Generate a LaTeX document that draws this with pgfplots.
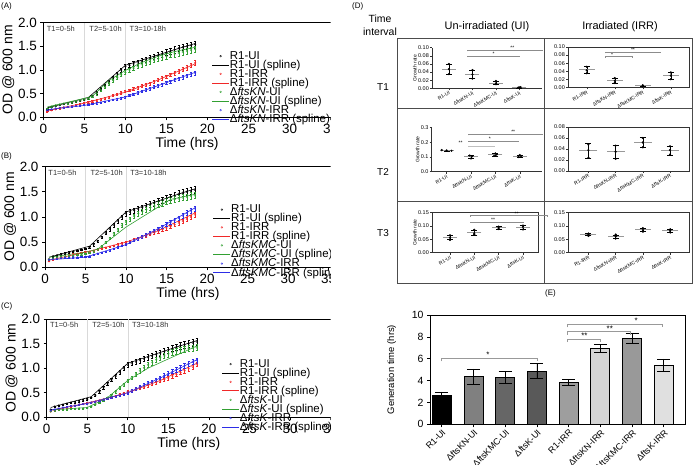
\documentclass[border=0pt]{standalone}
\usepackage{fontspec}
\setmainfont{Liberation Sans}
\usepackage{pgfplots}
\pgfplotsset{compat=1.18}
\usepackage{pgfplotstable}
\pgfkeys{/pgf/number format/assume math mode=true}
\definecolor{cred}{RGB}{240,40,40}
\definecolor{cgreen}{RGB}{50,160,50}
\definecolor{cblue}{RGB}{45,45,230}

\pgfplotstableread{
t r1ui r1irr mui mirr
0.5 0.16 0.12 0.18 0.15
1.0 0.22 0.15 0.22 0.17
1.5 0.24 0.17 0.25 0.19
2.0 0.26 0.19 0.27 0.20
2.5 0.28 0.21 0.29 0.21
3.0 0.30 0.22 0.30 0.22
3.5 0.31 0.24 0.32 0.23
4.0 0.33 0.26 0.34 0.24
4.5 0.35 0.28 0.36 0.25
5.0 0.37 0.30 0.38 0.26
5.5 0.40 0.32 0.41 0.27
6.0 0.45 0.34 0.44 0.28
6.5 0.52 0.36 0.50 0.30
7.0 0.60 0.38 0.57 0.31
7.5 0.68 0.40 0.64 0.33
8.0 0.76 0.43 0.71 0.35
8.5 0.84 0.46 0.78 0.37
9.0 0.92 0.49 0.84 0.39
9.5 1.00 0.52 0.90 0.41
10.0 1.07 0.55 0.95 0.43
10.5 1.10 0.57 1.00 0.46
11.0 1.13 0.60 1.04 0.49
11.5 1.16 0.63 1.08 0.52
12.0 1.19 0.66 1.12 0.55
12.5 1.22 0.69 1.15 0.58
13.0 1.25 0.72 1.18 0.61
13.5 1.28 0.76 1.21 0.64
14.0 1.31 0.79 1.24 0.67
14.5 1.34 0.83 1.27 0.70
15.0 1.37 0.86 1.29 0.73
15.5 1.40 0.90 1.32 0.76
16.0 1.43 0.93 1.34 0.79
16.5 1.46 0.97 1.36 0.82
17.0 1.48 1.01 1.38 0.85
17.5 1.50 1.05 1.40 0.88
18.0 1.52 1.10 1.42 0.91
18.5 1.54 1.15 1.44 0.94
}\dataA

\pgfplotstableread{
t r1ui r1irr mui mirr
0.5 0.16 0.12 0.15 0.15
1.0 0.22 0.15 0.18 0.16
1.5 0.24 0.18 0.20 0.17
2.0 0.26 0.20 0.21 0.18
2.5 0.28 0.22 0.22 0.19
3.0 0.30 0.24 0.23 0.19
3.5 0.31 0.26 0.24 0.20
4.0 0.33 0.27 0.25 0.20
4.5 0.35 0.29 0.26 0.21
5.0 0.37 0.30 0.27 0.21
5.5 0.40 0.31 0.29 0.22
6.0 0.45 0.33 0.32 0.25
6.5 0.52 0.35 0.36 0.27
7.0 0.60 0.37 0.42 0.29
7.5 0.68 0.39 0.50 0.31
8.0 0.76 0.41 0.58 0.34
8.5 0.84 0.43 0.67 0.37
9.0 0.92 0.45 0.75 0.40
9.5 1.00 0.47 0.83 0.43
10.0 1.07 0.49 0.90 0.46
10.5 1.10 0.52 0.96 0.50
11.0 1.13 0.55 1.02 0.54
11.5 1.16 0.57 1.07 0.57
12.0 1.19 0.60 1.11 0.61
12.5 1.22 0.63 1.15 0.65
13.0 1.25 0.66 1.19 0.69
13.5 1.28 0.69 1.22 0.73
14.0 1.31 0.72 1.25 0.77
14.5 1.34 0.75 1.28 0.81
15.0 1.37 0.78 1.31 0.85
15.5 1.40 0.81 1.33 0.90
16.0 1.43 0.85 1.35 0.94
16.5 1.46 0.88 1.37 0.98
17.0 1.48 0.92 1.39 1.03
17.5 1.50 0.96 1.40 1.08
18.0 1.52 1.00 1.42 1.13
18.5 1.54 1.05 1.43 1.17
}\dataB

\pgfplotstableread{
t r1ui r1irr mui mirr
0.5 0.16 0.12 0.12 0.14
1.0 0.22 0.14 0.14 0.16
1.5 0.24 0.16 0.15 0.18
2.0 0.26 0.18 0.16 0.20
2.5 0.28 0.20 0.16 0.21
3.0 0.30 0.22 0.17 0.23
3.5 0.31 0.24 0.17 0.24
4.0 0.33 0.26 0.18 0.26
4.5 0.35 0.27 0.18 0.27
5.0 0.37 0.29 0.19 0.28
5.5 0.40 0.30 0.22 0.30
6.0 0.45 0.32 0.26 0.32
6.5 0.52 0.34 0.30 0.34
7.0 0.60 0.36 0.35 0.36
7.5 0.68 0.38 0.40 0.38
8.0 0.76 0.40 0.45 0.40
8.5 0.84 0.43 0.52 0.42
9.0 0.92 0.46 0.60 0.44
9.5 1.00 0.49 0.67 0.47
10.0 1.07 0.52 0.74 0.50
10.5 1.10 0.54 0.81 0.54
11.0 1.13 0.57 0.88 0.58
11.5 1.16 0.60 0.95 0.62
12.0 1.19 0.62 1.01 0.66
12.5 1.22 0.65 1.07 0.70
13.0 1.25 0.68 1.12 0.73
13.5 1.28 0.71 1.17 0.77
14.0 1.31 0.74 1.21 0.81
14.5 1.34 0.77 1.25 0.85
15.0 1.37 0.80 1.29 0.89
15.5 1.40 0.84 1.32 0.93
16.0 1.43 0.87 1.35 0.97
16.5 1.46 0.91 1.37 1.01
17.0 1.48 0.95 1.39 1.05
17.5 1.50 0.99 1.40 1.09
18.0 1.52 1.03 1.41 1.13
18.5 1.54 1.08 1.42 1.16
}\dataC

\pgfplotsset{
  growth/.style={scale only axis, anchor=south west, xmin=0, ymin=0, ymax=2,
    xtick={0,5,10,15,20,25,30,35}, ytick={0,0.5,1,1.5,2},
    y tick label style={/pgf/number format/.cd, fixed, fixed zerofill, precision=1, /tikz/.cd},
    tick label style={font=\fontsize{13.5}{14}\selectfont},
    label style={font=\fontsize{14}{15}\selectfont},
    xlabel={Time (hrs)}, ylabel={OD @ 600 nm},
    xlabel style={yshift=3bp}, ylabel style={yshift=-3bp},
    axis line style={line width=0.8pt}, tick style={line width=0.8pt, black},
    tick align=outside, xtick pos=bottom, ytick pos=left, major tick length=3bp,
    legend cell align=left,
    legend style={draw=none, fill=none, font=\fontsize{11.5}{11.5}\selectfont,
      row sep=-1.7pt, inner sep=0pt, nodes={inner sep=0.5pt}},
  },
  mk/.style={only marks, mark=o, mark size=0.9pt, mark options={line width=0.35pt},
    error bars/y dir=both, error bars/y fixed relative=0.045,
    error bars/error bar style={line width=0.35pt},
    error bars/error mark options={rotate=90, mark size=1.1pt, line width=0.35pt}},
  sp/.style={no markers, line width=0.6pt},
  dax/.style={scale only axis, anchor=south west, clip=false, ymin=0, xtick={0,1,2,3},
    axis line style={line width=0.5pt, black!80}, tick style={black!80, line width=0.4pt},
    tick align=outside, major tick length=2bp, xtick pos=bottom, ytick pos=left,
    scaled y ticks=false,
    y tick label style={font=\fontsize{5.5}{6}\selectfont, inner sep=1pt,
      /pgf/number format/.cd, fixed, fixed zerofill, precision=2, /tikz/.cd},
    x tick label style={font=\fontsize{5}{5}\selectfont, rotate=30, anchor=north east, inner sep=0.5pt},
    ylabel style={font=\fontsize{5}{5}\selectfont, yshift=-3bp}},
  pt/.style={only marks, mark=*, mark size=0.9pt, black},
  mn/.style={only marks, mark=-, mark size=#1, mark options={black!40, line width=0.9pt},
    error bars/y dir=both, error bars/y explicit,
    error bars/error bar style={black, line width=0.4pt},
    error bars/error mark options={rotate=90, black, mark size=3bp, line width=0.4pt}},
}
\newcommand{\brk}[5]{%
  \draw[black!45, line width=0.4pt] ([yshift=-1.2bp]axis cs:#1,#3) -- (axis cs:#1,#3) -- (axis cs:#2,#3) -- ([yshift=-1.2bp]axis cs:#2,#3);
  \node[font=\fontsize{5}{5}\selectfont, inner sep=0pt, anchor=south] at ([yshift=0.2bp]axis cs:#5,#3) {#4};}
\newcommand{\ebrk}[5]{%
  \draw[black!40, line width=0.5pt] ([yshift=-3bp]axis cs:#1,#3) -- (axis cs:#1,#3) -- (axis cs:#2,#3) -- ([yshift=-3bp]axis cs:#2,#3);
  \node[font=\fontsize{8}{8}\selectfont, inner sep=0pt, anchor=south] at ([yshift=0.5bp]axis cs:#5,#3) {#4};}
\newcommand{\tlabels}{%
  \draw[black!15, line width=0.4pt] (axis cs:5,0) -- (axis cs:5,2);
  \draw[black!15, line width=0.4pt] (axis cs:10,0) -- (axis cs:10,2);
  \node[anchor=west, font=\fontsize{7.5}{8}\selectfont, text=black!80, inner sep=0pt] at (axis cs:0.4,1.88) {T1=0-5h};
  \node[anchor=west, font=\fontsize{7.5}{8}\selectfont, text=black!80, inner sep=0pt] at (axis cs:5.6,1.88) {T2=5-10h};
  \node[anchor=west, font=\fontsize{7.5}{8}\selectfont, text=black!80, inner sep=0pt] at (axis cs:10.5,1.88) {T3=10-18h};}

\begin{document}
\begin{tikzpicture}
\path[use as bounding box] (0bp,0bp) rectangle (694bp,465bp);

\begin{scope}
\clip (0bp,0bp) rectangle (330.5bp,465bp);
% ---------- A
\begin{axis}[growth, at={(43.3bp,347.7bp)}, width=287.7bp, height=94.6bp, xmax=35.05,
  legend style={at={(0.585,0.703)}, anchor=north west}]
\tlabels
\addplot[mk, black] table[x=t,y=r1ui] {\dataA};
\addplot[sp, black] coordinates {(0.5,0.2)(5.5,0.42)(10,1.1)(12,1.21)(14,1.32)(16,1.43)(18.5,1.56)};
\addplot[mk, cred] table[x=t,y=r1irr] {\dataA};
\addplot[sp, cred] coordinates {(0.5,0.14)(5,0.3)(10,0.53)(14,0.79)(18.5,1.13)};
\addplot[mk, cgreen] table[x=t,y=mui] {\dataA};
\addplot[sp, cgreen] coordinates {(0.5,0.22)(5.5,0.42)(6,0.45)(8,0.78)(10,0.99)(12,1.16)(14,1.29)(16,1.39)(18.5,1.48)};
\addplot[mk, cblue] table[x=t,y=mirr] {\dataA};
\addplot[sp, cblue] coordinates {(0.5,0.16)(5,0.25)(10,0.43)(14,0.67)(18.5,0.95)};
\legend{R1-UI, R1-UI (spline), R1-IRR, R1-IRR (spline), Δ\textit{ftsKN}-UI, Δ\textit{ftsKN}-UI (spline), Δ\textit{ftsKN}-IRR, Δ\textit{ftsKN}-IRR (spline)}
\end{axis}
% ---------- B
\begin{axis}[growth, at={(45bp,197.7bp)}, width=286bp, height=100.6bp, xmax=35.3,
  legend style={at={(0.587,0.627)}, anchor=north west}]
\tlabels
\addplot[mk, black] table[x=t,y=r1ui] {\dataB};
\addplot[sp, black] coordinates {(0.5,0.2)(5.5,0.42)(10,1.1)(12,1.21)(14,1.32)(16,1.43)(18.5,1.56)};
\addplot[mk, cred] table[x=t,y=r1irr] {\dataB};
\addplot[sp, cred] coordinates {(0.5,0.14)(5,0.3)(10,0.5)(14,0.73)(18.5,1.08)};
\addplot[mk, cgreen] table[x=t,y=mui] {\dataB};
\addplot[sp, cgreen] coordinates {(0.5,0.2)(5,0.3)(6.5,0.36)(10,0.8)(12.5,1.05)(15.5,1.35)(18.5,1.45)};
\addplot[mk, cblue] table[x=t,y=mirr] {\dataB};
\addplot[sp, cblue] coordinates {(0.5,0.15)(5,0.2)(10,0.45)(14,0.77)(18.5,1.18)};
\legend{R1-UI, R1-UI (spline), R1-IRR, R1-IRR (spline), Δ\textit{ftsKMC}-UI, Δ\textit{ftsKMC}-UI (spline), Δ\textit{ftsKMC}-IRR, Δ\textit{ftsKMC}-IRR (spline)}
\end{axis}
% ---------- C
\begin{axis}[growth, at={(46.7bp,47.7bp)}, width=284.3bp, height=98.3bp, xmax=35.05,
  legend style={at={(0.615,0.596)}, anchor=north west}]
\tlabels
\addplot[mk, black] table[x=t,y=r1ui] {\dataC};
\addplot[sp, black] coordinates {(0.5,0.2)(5.5,0.42)(10,1.1)(12,1.21)(14,1.32)(16,1.43)(18.5,1.56)};
\addplot[mk, cred] table[x=t,y=r1irr] {\dataC};
\addplot[sp, cred] coordinates {(0.5,0.14)(5,0.29)(10,0.5)(14,0.75)(18.5,1.1)};
\addplot[mk, cgreen] table[x=t,y=mui] {\dataC};
\addplot[sp, cgreen] coordinates {(0.5,0.15)(5,0.2)(7.5,0.4)(10,0.75)(12.5,1.0)(18.5,1.45)};
\addplot[mk, cblue] table[x=t,y=mirr] {\dataC};
\addplot[sp, cblue] coordinates {(0.5,0.15)(5,0.28)(10,0.5)(14,0.8)(18.5,1.17)};
\legend{R1-UI, R1-UI (spline), R1-IRR, R1-IRR (spline), Δ\textit{ftsK}-UI, Δ\textit{ftsK}-UI (spline), Δ\textit{ftsK}-IRR, Δ\textit{ftsK}-IRR (spline)}
\end{axis}
\end{scope}

\node[anchor=west, font=\fontsize{8}{9}\selectfont, inner sep=0pt] at (1bp,458.3bp) {(A)};
\node[anchor=west, font=\fontsize{8}{9}\selectfont, inner sep=0pt] at (1bp,308.3bp) {(B)};
\node[anchor=west, font=\fontsize{8}{9}\selectfont, inner sep=0pt] at (1bp,159bp) {(C)};

% ---------- D frame and headers
\node[anchor=west, font=\fontsize{8}{9}\selectfont, inner sep=0pt] at (352bp,458.3bp) {(D)};
\node[font=\fontsize{10.5}{11}\selectfont, inner sep=0pt] at (380bp,446bp) {Time};
\node[font=\fontsize{10.5}{11}\selectfont, inner sep=0pt] at (380bp,433bp) {interval};
\node[font=\fontsize{11}{12}\selectfont, inner sep=0pt] at (487bp,438bp) {Un-irradiated (UI)};
\node[font=\fontsize{11}{12}\selectfont, inner sep=0pt] at (620bp,438bp) {Irradiated (IRR)};
\node[font=\fontsize{10}{11}\selectfont, inner sep=0pt] at (383bp,378bp) {T1};
\node[font=\fontsize{10}{11}\selectfont, inner sep=0pt] at (383bp,293bp) {T2};
\node[font=\fontsize{10}{11}\selectfont, inner sep=0pt] at (383bp,232bp) {T3};
\draw[black!70, line width=0.6pt] (397bp,182bp) rectangle (692bp,427bp);
\draw[black!70, line width=0.6pt] (544bp,182bp) -- (544bp,427bp);
\draw[black!70, line width=0.6pt] (397bp,357bp) -- (692bp,357bp);
\draw[black!70, line width=0.6pt] (397bp,264bp) -- (692bp,264bp);

% T1 UI
\begin{axis}[dax, at={(432bp,376.7bp)}, width=110bp, height=40.6bp, xmin=-0.72, xmax=3.96,
  ymax=0.10, ytick={0,0.02,0.04,0.06,0.08,0.10}, axis lines*=left, ylabel={Growth rate},
  xticklabels={R1-UI,ΔftsKN-UI,ΔftsKMC-UI,ΔftsK-UI}]
\addplot[mn=7bp] coordinates {(0,0.047) +- (0,0.012) (1,0.034) +- (0,0.010) (2,0.013) +- (0,0.004) (3,0.002) +- (0,0.001)};
\addplot[pt] coordinates {(0,0.060)(0,0.047)(0,0.035)(1,0.045)(1,0.034)(1,0.024)(2,0.018)(2,0.012)(2,0.010)(3.05,0.003)(3,0.002)(2.95,0.002)};
\brk{0.77}{3.0}{0.0795}{*}{1.9}
\brk{0.77}{3.96}{0.094}{**}{2.7}
\end{axis}
% T1 IRR
\begin{axis}[dax, at={(568bp,377.7bp)}, width=121bp, height=40.3bp, xmin=-0.67, xmax=3.65,
  ymax=0.10, ytick={0,0.02,0.04,0.06,0.08,0.10},
  xticklabels={R1-IRR,ΔftsKN-IRR,ΔftsKMC-IRR,ΔftsK-IRR}]
\addplot[mn=8bp] coordinates {(0,0.044) +- (0,0.008) (1,0.017) +- (0,0.006) (2,0.004) +- (0,0.0015) (3,0.029) +- (0,0.008)};
\addplot[pt] coordinates {(0,0.051)(0,0.042)(0,0.035)(1,0.023)(1,0.016)(1,0.011)(2,0.005)(2,0.004)(2,0.002)(3,0.037)(3,0.029)(3,0.020)};
\brk{0.65}{1.63}{0.076}{*}{0.9}
\brk{0.65}{2.62}{0.087}{**}{1.65}
\end{axis}
% T2 UI
\begin{axis}[dax, at={(431.7bp,293.3bp)}, width=110.3bp, height=44bp, xmin=-0.61, xmax=3.91,
  ymax=0.3, ytick={0,0.1,0.2,0.3}, axis lines*=left, ylabel={Growth rate},
  y tick label style={/pgf/number format/precision=1},
  xticklabels={R1-UI,ΔftsKN-UI,ΔftsKMC-UI,ΔftsK-UI}]
\addplot[mn=7bp] coordinates {(0,0.145) +- (0,0.003) (1,0.102) +- (0,0.010) (2,0.117) +- (0,0.008) (3,0.107) +- (0,0.006)};
\addplot[pt] coordinates {(-0.2,0.147)(0,0.145)(0.2,0.143)(0.95,0.110)(1.05,0.105)(1,0.090)(2,0.125)(2.05,0.117)(1.95,0.108)(3,0.113)(3.05,0.107)(2.95,0.100)};
\brk{0.9}{3.91}{0.255}{**}{2.73}
\brk{0.9}{2.94}{0.211}{*}{1.77}
\draw[black!25, line width=1pt] ([yshift=-1.2bp]axis cs:0.9,0.175) -- (axis cs:0.9,0.175) -- (axis cs:1.98,0.175) -- ([yshift=-1.2bp]axis cs:1.98,0.175);
\node[font=\fontsize{5}{5}\selectfont, inner sep=0pt] at (axis cs:0.57,0.2) {**};
\end{axis}
% T2 IRR
\begin{axis}[dax, at={(568bp,294bp)}, width=121bp, height=44bp, xmin=-0.75, xmax=3.70,
  ymax=0.08, ytick={0,0.02,0.04,0.06,0.08},
  xticklabels={R1-IRR,ΔftsKN-IRR,ΔftsKMC-IRR,ΔftsK-IRR}]
\addplot[mn=9bp] coordinates {(0,0.037) +- (0,0.013) (1,0.035) +- (0,0.012) (2,0.052) +- (0,0.009) (3,0.037) +- (0,0.008)};
\addplot[pt] coordinates {(0,0.048)(0,0.038)(0,0.024)(1,0.046)(1,0.035)(1,0.022)(2,0.060)(2,0.052)(2,0.043)(3,0.045)(3,0.038)(3,0.030)};
\end{axis}
% T3 UI
\begin{axis}[dax, at={(432bp,212.3bp)}, width=106bp, height=40bp, xmin=-0.74, xmax=3.62,
  ymax=0.15, ytick={0,0.05,0.10,0.15}, ylabel={Growth rate},
  xticklabels={R1-UI,ΔftsKN-UI,ΔftsKMC-UI,ΔftsK-UI}]
\addplot[mn=7bp] coordinates {(0,0.057) +- (0,0.008) (1,0.075) +- (0,0.010) (2,0.093) +- (0,0.005) (3,0.096) +- (0,0.008)};
\addplot[pt] coordinates {(0,0.065)(0,0.056)(0,0.048)(1,0.086)(1,0.073)(1,0.068)(2,0.098)(2,0.093)(2,0.089)(3,0.102)(3,0.097)(3,0.087)};
\brk{0.85}{3.0}{0.116}{**}{1.77}
\brk{0.85}{3.98}{0.139}{**}{2.74}
\end{axis}
% T3 IRR
\begin{axis}[dax, at={(568bp,212.3bp)}, width=121bp, height=40bp, xmin=-0.75, xmax=3.69,
  ymax=0.15, ytick={0,0.05,0.10,0.15},
  xticklabels={R1-IRR,ΔftsKN-IRR,ΔftsKMC-IRR,ΔftsK-IRR}]
\addplot[mn=8bp] coordinates {(0,0.068) +- (0,0.004) (1,0.060) +- (0,0.007) (2,0.086) +- (0,0.006) (3,0.082) +- (0,0.006)};
\addplot[pt] coordinates {(0,0.072)(0,0.068)(0,0.063)(1,0.068)(1,0.061)(1,0.053)(2,0.092)(2,0.085)(2,0.079)(3,0.088)(3,0.082)(3,0.076)};
\end{axis}

% ---------- E
\node[anchor=west, font=\fontsize{8}{9}\selectfont, inner sep=0pt] at (545bp,172bp) {(E)};
\begin{axis}[at={(430bp,40.7bp)}, anchor=south west, scale only axis, width=255bp, height=109.3bp,
  xmin=-0.37, xmax=7.67, ymin=0, ymax=10, ytick={0,2,4,6,8,10}, xtick={0,1,2,3,4,5,6,7},
  xticklabels={R1-UI,ΔftsKN-UI,ΔftsKMC-UI,ΔftsK-UI,R1-IRR,ΔftsKN-IRR,ΔftsKMC-IRR,ΔftsK-IRR},
  x tick label style={rotate=45, anchor=north east, font=\fontsize{9}{9}\selectfont, inner sep=1pt},
  y tick label style={font=\fontsize{10.5}{11}\selectfont},
  ylabel={Generation time (hrs)}, ylabel style={font=\fontsize{9.5}{10}\selectfont, yshift=9bp},
  axis line style={line width=0.7pt}, tick style={black, line width=0.6pt}, tick align=outside,
  major tick length=3bp, xtick pos=bottom, ytick pos=left, clip=false,
  ybar, bar width=19bp,
  every axis plot/.append style={draw=black, line width=0.9pt, bar shift=0pt,
    error bars/y dir=both, error bars/y explicit,
    error bars/error bar style={black, line width=0.7pt},
    error bars/error mark options={rotate=90, black, mark size=6.5bp, line width=0.7pt}}]
\addplot[fill=black] coordinates {(0,2.62) +- (0,0.34)};
\addplot[fill=black!50] coordinates {(1,4.36) +- (0,0.70)};
\addplot[fill=black!60] coordinates {(2,4.27) +- (0,0.53)};
\addplot[fill=black!65] coordinates {(3,4.88) +- (0,0.69)};
\addplot[fill=black!38] coordinates {(4,3.84) +- (0,0.30)};
\addplot[fill=black!17] coordinates {(5,6.95) +- (0,0.34)};
\addplot[fill=black!40] coordinates {(6,7.87) +- (0,0.46)};
\addplot[fill=black!12] coordinates {(7,5.43) +- (0,0.55)};
\ebrk{0}{3}{6.04}{*}{1.46}
\ebrk{3.96}{4.99}{7.8}{**}{4.5}
\ebrk{3.96}{5.94}{8.47}{**}{5.3}
\ebrk{3.96}{6.94}{9.15}{*}{6.13}
\end{axis}
\end{tikzpicture}
\end{document}
